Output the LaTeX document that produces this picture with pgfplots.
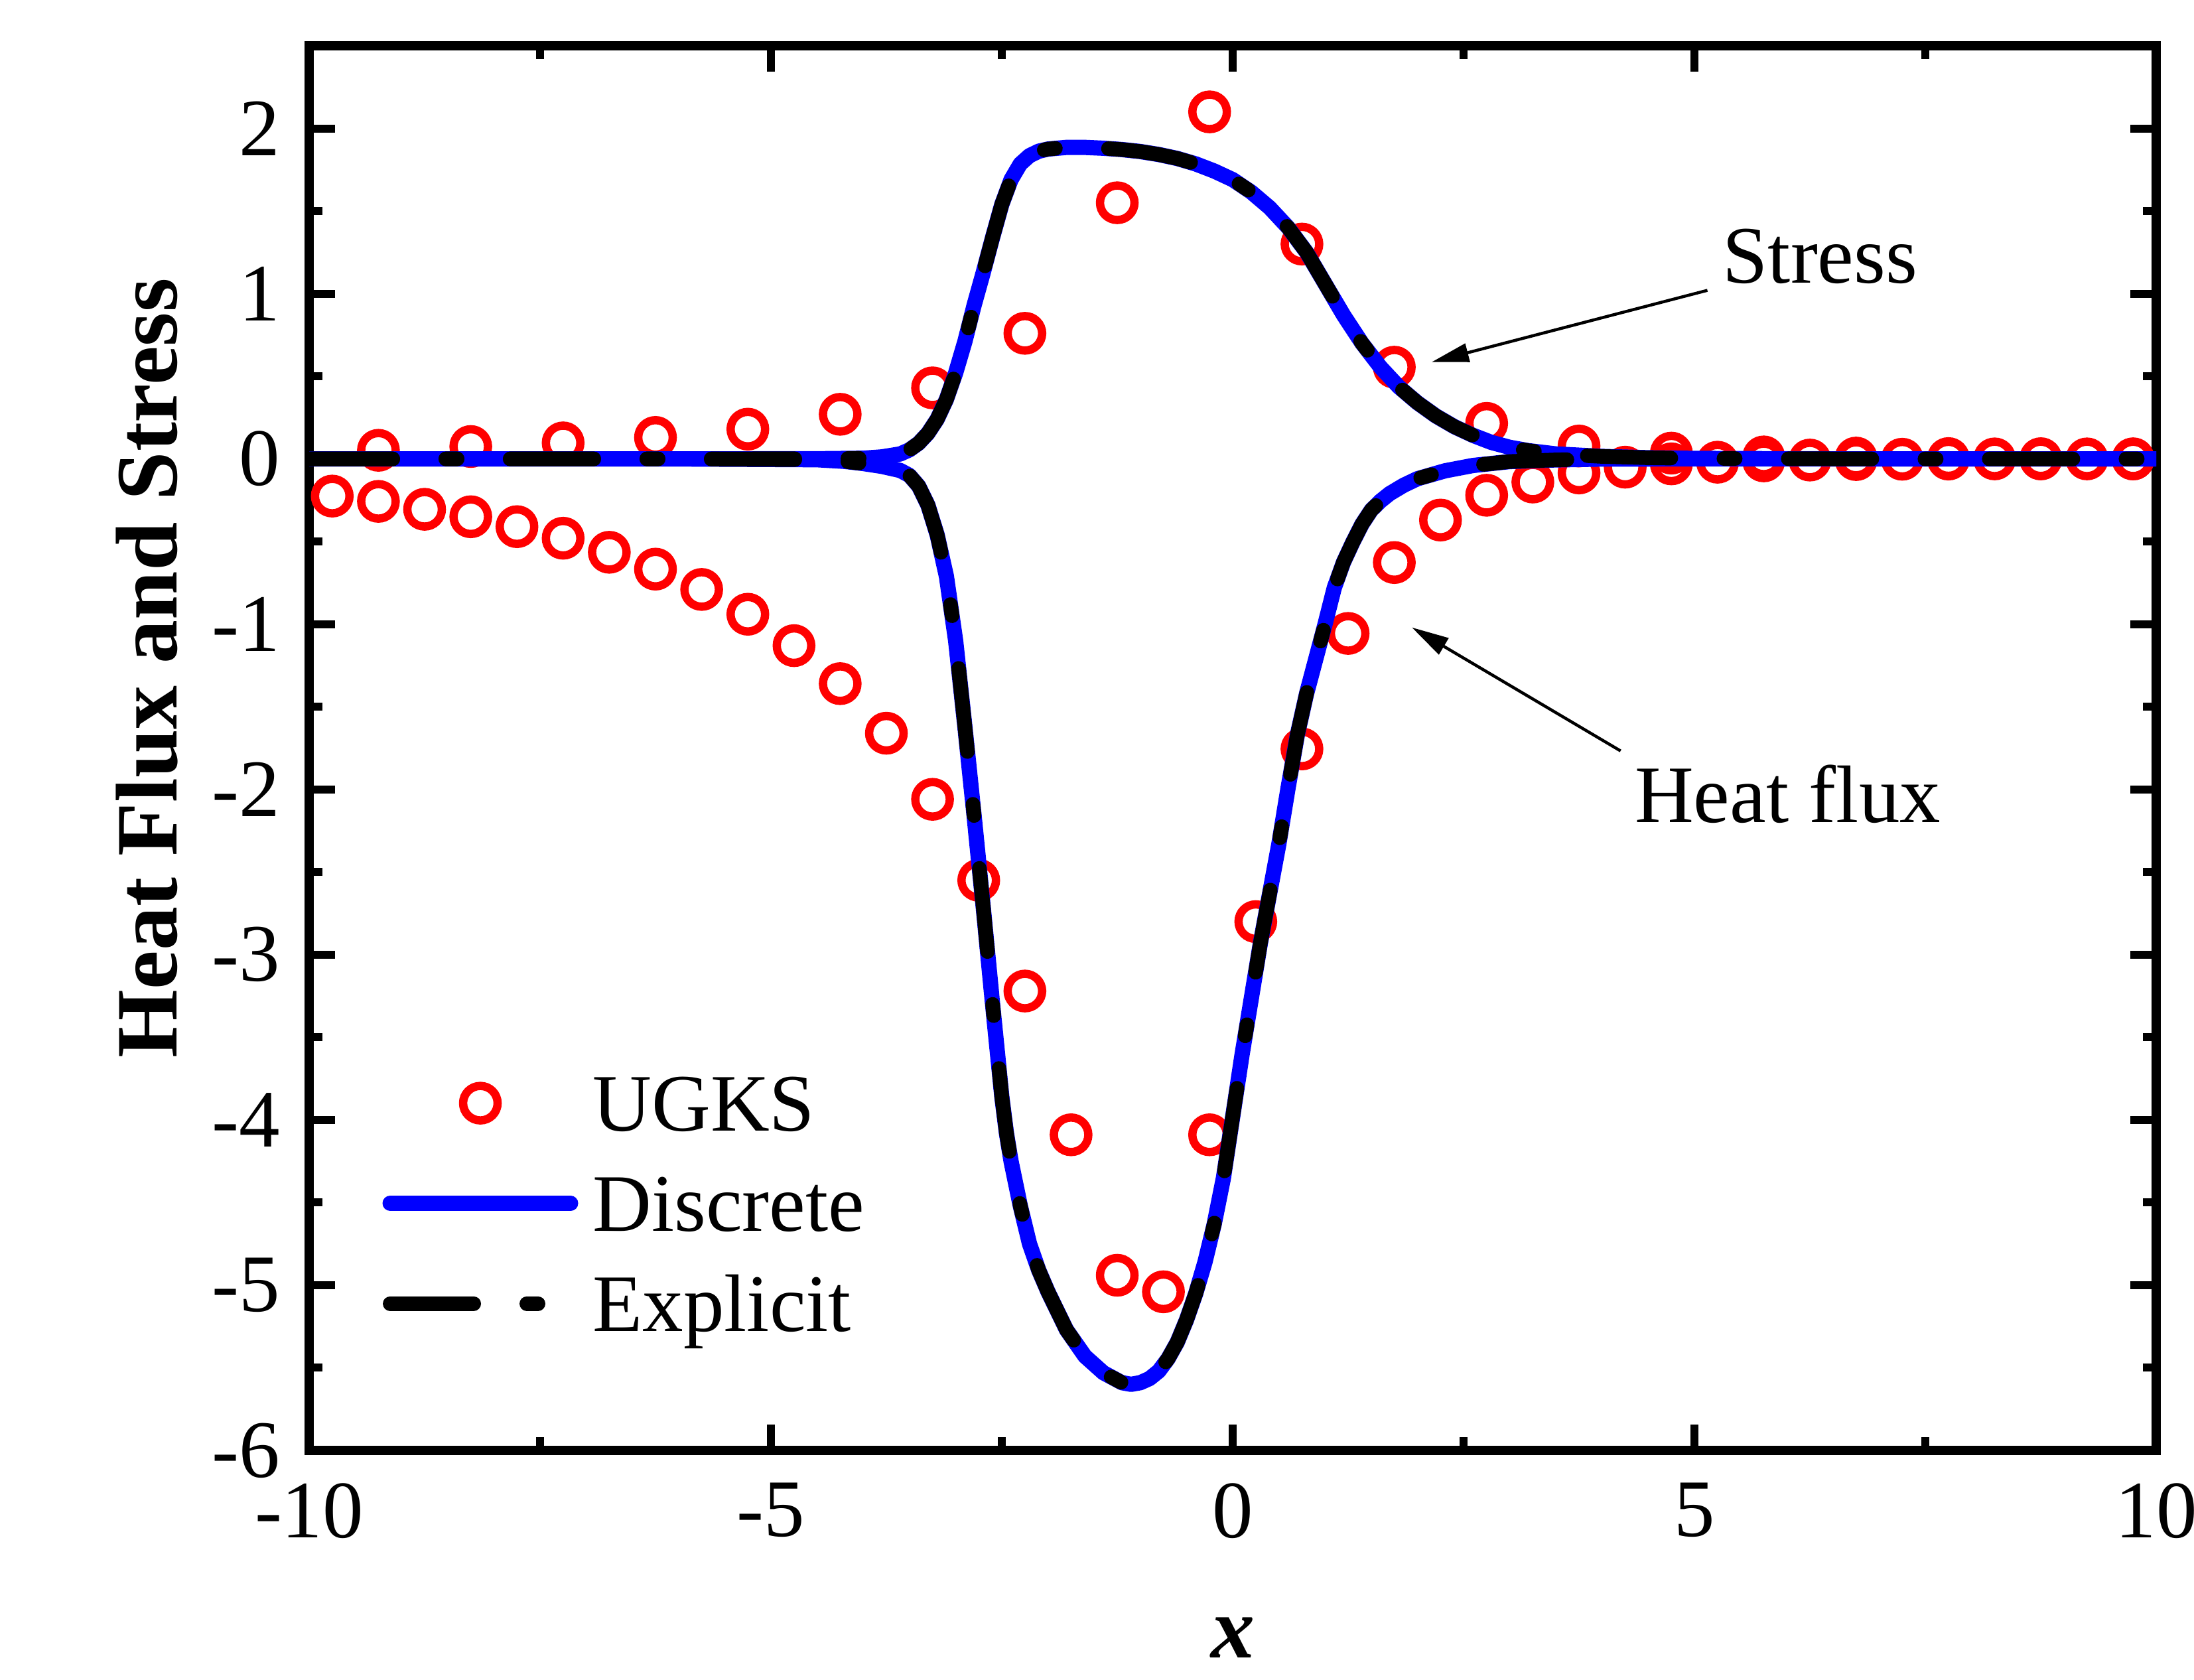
\documentclass[border=0pt]{standalone}
\usepackage{fontspec}
\setmainfont{Liberation Serif}
\usepackage{pgfplots}
\usepackage{pgfplotstable}
\pgfplotsset{compat=1.18}
\usetikzlibrary{arrows.meta}

\pgfplotstableread{
x y
-10 0
-6 0
-4.5 0.001
-4.0 0.004
-3.8 0.012
-3.6 0.03
-3.5 0.055
-3.4 0.095
-3.3 0.155
-3.2 0.24
-3.1 0.36
-3.0 0.52
-2.9 0.71
-2.8 0.93
-2.7 1.13
-2.6 1.34
-2.5 1.54
-2.4 1.69
-2.3 1.785
-2.2 1.835
-2.1 1.862
-2.0 1.875
-1.8 1.885
-1.6 1.885
-1.4 1.88
-1.2 1.872
-1.0 1.86
-0.8 1.842
-0.6 1.818
-0.4 1.785
-0.2 1.742
0.0 1.69
0.2 1.615
0.4 1.52
0.6 1.40
0.8 1.25
1.0 1.06
1.2 0.87
1.4 0.70
1.6 0.555
1.8 0.435
2.0 0.34
2.2 0.26
2.4 0.195
2.6 0.143
2.8 0.10
3.0 0.07
3.2 0.05
3.5 0.03
4.0 0.015
4.5 0.007
5.0 0.003
6.0 0.001
7.0 0
10 0
}\stress

\pgfplotstableread{
x y
-10 0
-6 0
-4.5 -0.005
-4.2 -0.015
-4.0 -0.028
-3.8 -0.045
-3.6 -0.07
-3.5 -0.10
-3.4 -0.165
-3.3 -0.28
-3.2 -0.46
-3.1 -0.71
-3.0 -1.10
-2.9 -1.62
-2.8 -2.16
-2.7 -2.72
-2.6 -3.30
-2.5 -3.86
-2.45 -4.08
-2.4 -4.25
-2.3 -4.52
-2.2 -4.75
-2.1 -4.91
-2.0 -5.04
-1.8 -5.27
-1.6 -5.43
-1.4 -5.53
-1.2 -5.59
-1.1 -5.60
-1.0 -5.59
-0.9 -5.565
-0.8 -5.52
-0.7 -5.445
-0.6 -5.345
-0.5 -5.21
-0.4 -5.05
-0.3 -4.86
-0.2 -4.63
-0.1 -4.35
0.0 -3.98
0.1 -3.61
0.2 -3.27
0.3 -2.93
0.4 -2.63
0.5 -2.33
0.6 -1.99
0.7 -1.67
0.8 -1.42
0.9 -1.21
1.0 -1.00
1.1 -0.78
1.2 -0.625
1.3 -0.505
1.4 -0.395
1.5 -0.31
1.6 -0.255
1.7 -0.21
1.85 -0.16
2.0 -0.12
2.3 -0.072
2.6 -0.04
3.0 -0.016
3.5 -0.006
4.0 -0.001
5.0 0
10 0
}\heat

\pgfplotstableread{
x y
-9.25 0.052
-8.25 0.075
-7.25 0.097
-6.25 0.13
-5.25 0.18
-4.25 0.27
-3.25 0.43
-2.25 0.76
-1.25 1.55
-0.25 2.10
0.75 1.30
1.75 0.555
2.75 0.215
3.75 0.078
4.75 0.035
5.75 0.012
6.75 0.005
7.75 0.002
8.75 0.001
9.75 0
-9.75 -0.225
-9.25 -0.257
-8.75 -0.305
-8.25 -0.35
-7.75 -0.41
-7.25 -0.48
-6.75 -0.565
-6.25 -0.667
-5.75 -0.79
-5.25 -0.94
-4.75 -1.13
-4.25 -1.36
-3.75 -1.66
-3.25 -2.06
-2.75 -2.55
-2.25 -3.22
-1.75 -4.09
-1.25 -4.94
-0.75 -5.04
-0.25 -4.09
0.25 -2.80
0.75 -1.755
1.25 -1.056
1.75 -0.627
2.25 -0.37
2.75 -0.22
3.25 -0.14
3.75 -0.085
4.25 -0.05
4.75 -0.03
5.25 -0.02
5.75 -0.012
6.25 -0.007
6.75 -0.004
7.25 -0.002
7.75 -0.001
8.25 0
8.75 0
9.25 0
9.75 0
}\ugks

\begin{document}
\begin{tikzpicture}
\begin{axis}[
  name=ax,
  width=278.4pt, height=211.7pt, scale only axis,
  xmin=-10, xmax=10, ymin=-6, ymax=2.5,
  xtick={-10,-5,0,5,10}, xticklabels={-10,-5,0,5,10},
  ytick={-6,-5,-4,-3,-2,-1,0,1,2}, yticklabels={-6,-5,-4,-3,-2,-1,0,1,2},
  minor xtick={-7.5,-2.5,2.5,7.5},
  minor ytick={-5.5,-4.5,-3.5,-2.5,-1.5,-0.5,0.5,1.5},
  tick align=inside,
  major tick length=3.9pt, minor tick length=2pt,
  tick style={black, line width=1.2pt},
  axis line style={line width=1.4pt},
  ticklabel style={font=\fontsize{12.3}{14}\selectfont},
  xticklabel style={yshift=-1.4pt},
  yticklabel style={xshift=-0.9pt},
  xlabel={\textbf{\textit{x}}},
  ylabel={\textbf{Heat Flux and Stress}},
  label style={font=\fontsize{13.2}{15}\selectfont},
  xlabel style={at={(axis description cs:0.5,0)}, anchor=center, yshift=-28.2pt},
  ylabel style={at={(axis description cs:-0.088,0.557)}, anchor=center},
  clip mode=individual,
  legend cell align=left,
  legend image code/.code={\draw[mark repeat=2,mark phase=2,#1] plot coordinates {(0pt,0pt) (13.6pt,0pt) (27.2pt,0pt)};},
  legend style={draw=none, fill=none, inner sep=0pt, outer sep=0pt,
    at={(axis cs:-9.206,-3.73)}, anchor=north west,
    row sep=6.7pt, column sep=2.2pt,
    font=\fontsize{12.3}{14}\selectfont,
    nodes={inner sep=0pt, text height=8.4pt, text depth=0pt}},
]
\addplot[only marks, mark=o, mark size=2.6pt, color=red, mark options={line width=1.25pt}] table[x=x,y=y] {\ugks};
\addlegendentry{UGKS}
\addplot[color=blue, line width=2.3pt, line cap=round, line join=round] table[x=x,y=y] {\stress};
\addlegendentry{Discrete}
\addplot[forget plot, color=blue, line width=2.3pt, line cap=round, line join=round] table[x=x,y=y] {\heat};
\addplot[color=black, line width=2.2pt, line cap=round, line join=round, dash pattern=on 12.6pt off 8pt on 1.7pt off 8pt] table[x=x,y=y] {\stress};
\addlegendentry{Explicit}
\addplot[forget plot, color=black, line width=2.2pt, line cap=round, line join=round, dash pattern=on 12.6pt off 8pt on 1.7pt off 8pt, restrict x to domain=-10:4.01] table[x=x,y=y] {\heat};

\draw[line width=0.45pt, -{Triangle[length=5.6pt,width=2.8pt]}] (axis cs:5.14,1.02) -- (axis cs:2.155,0.586);
\draw[line width=0.45pt, -{Triangle[length=5.6pt,width=2.8pt]}] (axis cs:4.20,-1.767) -- (axis cs:1.94,-1.02);
\node[anchor=base, inner sep=0pt, font=\fontsize{12.3}{14}\selectfont] at (axis cs:6.36,1.064) {Stress};
\node[anchor=base, inner sep=0pt, font=\fontsize{12.3}{14}\selectfont] at (axis cs:6.01,-2.201) {Heat flux};
\end{axis}
\pgfresetboundingbox
\useasboundingbox ([shift={(-46.6pt,-34.6pt)}]ax.south west) rectangle ([shift={(5.7pt,6.9pt)}]ax.north east);
\end{tikzpicture}
\end{document}
